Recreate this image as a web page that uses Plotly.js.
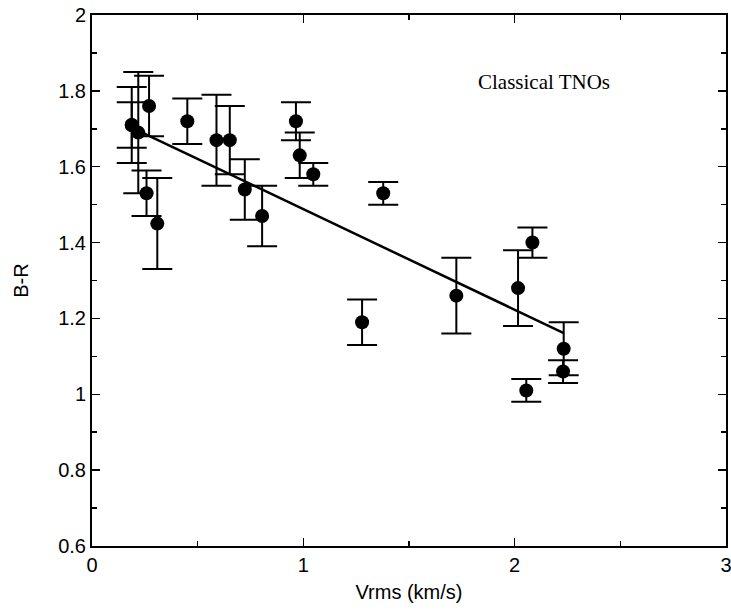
<!DOCTYPE html>
<html>
<head>
<meta charset="utf-8">
<script src="https://cdn.plot.ly/plotly-3.0.1.min.js"></script>
<style>
  html, body { margin: 0; padding: 0; background: #fff; }
  #chart { width: 731px; height: 610px; }
</style>
</head>
<body>
<div id="chart"></div>
<script>
// Data
const vrms = [0.188, 0.188, 0.219, 0.270, 0.258, 0.309, 0.451, 0.589, 0.652, 0.723, 0.805, 0.965, 0.983, 1.047, 1.278, 1.378, 1.724, 2.016, 2.055, 2.084, 2.232, 2.229];
const bMinusR = [1.71, 1.71, 1.69, 1.76, 1.53, 1.45, 1.72, 1.67, 1.67, 1.54, 1.47, 1.72, 1.63, 1.58, 1.19, 1.53, 1.26, 1.28, 1.01, 1.40, 1.12, 1.06];
const bMinusRErr = [0.10, 0.06, 0.16, 0.08, 0.06, 0.12, 0.06, 0.12, 0.09, 0.08, 0.08, 0.05, 0.06, 0.03, 0.06, 0.03, 0.10, 0.10, 0.03, 0.04, 0.07, 0.03];

// Linear fit line endpoints
const fitX = [0.20, 2.23];
const fitY = [1.700, 1.162];

const xTickVals = [0, 1, 2, 3];
const xTickText = ['0', '1', '2', '3'];
const yTickVals = [0.6, 0.8, 1, 1.2, 1.4, 1.6, 1.8, 2];
const yTickText = ['0.6', '0.8', '1', '1.2', '1.4', '1.6', '1.8', '2'];

const traces = [
  {
    x: fitX, y: fitY, mode: 'lines', type: 'scatter',
    line: { color: '#000', width: 2.5 },
    hoverinfo: 'skip', showlegend: false
  },
  {
    x: vrms, y: bMinusR, mode: 'markers', type: 'scatter',
    marker: { color: '#000', size: 14 },
    error_y: { type: 'data', array: bMinusRErr, visible: true, color: '#000', thickness: 2, width: 15 },
    showlegend: false
  }
];

const axisFont = { family: 'Liberation Sans, Arial, sans-serif', size: 20, color: '#000' };

const layout = {
  width: 731, height: 610,
  margin: { l: 92, r: 5, t: 15, b: 64 },
  paper_bgcolor: '#fff', plot_bgcolor: '#fff',
  showlegend: false,
  xaxis: {
    range: [0, 3], tickvals: xTickVals, ticktext: xTickText,
    ticks: 'inside', ticklen: 8, tickwidth: 1.5, tickcolor: '#000',
    minor: { dtick: 0.5, tick0: 0, ticks: 'inside', ticklen: 5, tickwidth: 1.5, tickcolor: '#000' },
    showline: true, linewidth: 2, linecolor: '#000', mirror: 'ticks',
    showgrid: false, zeroline: false,
    ticklabeloverflow: 'allow',
    tickfont: axisFont,
    title: { text: 'Vrms (km/s)', font: axisFont, standoff: 10 }
  },
  yaxis: {
    range: [0.6, 2], tickvals: yTickVals, ticktext: yTickText,
    ticks: 'inside', ticklen: 8, tickwidth: 1.5, tickcolor: '#000',
    minor: { dtick: 0.1, tick0: 0, ticks: 'inside', ticklen: 5, tickwidth: 1.5, tickcolor: '#000' },
    showline: true, linewidth: 2, linecolor: '#000', mirror: 'ticks',
    showgrid: false, zeroline: false,
    ticklabeloverflow: 'allow',
    tickfont: axisFont,
    title: { text: 'B-R', font: axisFont, standoff: 24 }
  },
  annotations: [
    {
      text: 'Classical TNOs', x: 2.137, y: 1.823, xref: 'x', yref: 'y',
      showarrow: false, xanchor: 'center', yanchor: 'middle',
      font: { family: 'Liberation Serif, Times New Roman, serif', size: 21, color: '#000' }
    }
  ]
};

Plotly.newPlot('chart', traces, layout, { displayModeBar: false, staticPlot: true });
</script>
</body>
</html>
